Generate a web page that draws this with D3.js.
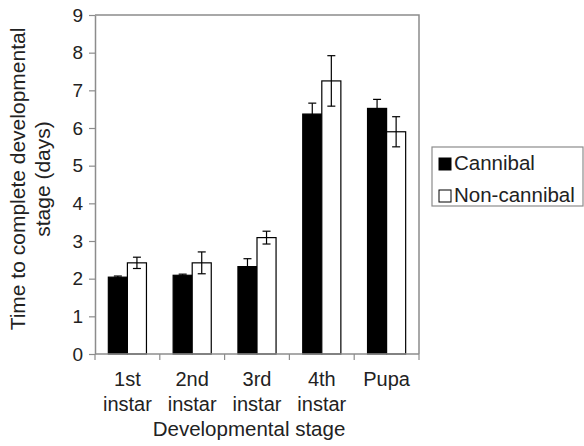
<!DOCTYPE html>
<html>
<head>
<meta charset="utf-8">
<script src="https://cdn.jsdelivr.net/npm/d3@7"></script>
<style>
  body { margin: 0; background: #fff; }
  svg { font-family: "Liberation Sans", Arial, sans-serif; }
</style>
</head>
<body>
<svg id="chart" width="584" height="446"></svg>
<script>
// data
var stages = ["1st instar", "2nd instar", "3rd instar", "4th instar", "Pupa"];
var series = ["Cannibal", "Non-cannibal"];
var cannibal = [2.04, 2.09, 2.32, 6.37, 6.52];
var cannibalErr = [0.03, 0.03, 0.21, 0.29, 0.24];
var nonCannibal = [2.42, 2.42, 3.09, 7.25, 5.90];
var nonCannibalErr = [0.15, 0.29, 0.17, 0.67, 0.40];
var yTicks = [0, 1, 2, 3, 4, 5, 6, 7, 8, 9];

var svg = d3.select("#chart"),
    margin = {top: 15, left: 95, right: 419, bottom: 354},
    axisGray = "#8c8c8c";

// rows for the grouped bars
var rows = stages.map(function(s, i) {
  return {stage: s, values: [
    {key: series[0], v: cannibal[i], e: cannibalErr[i]},
    {key: series[1], v: nonCannibal[i], e: nonCannibalErr[i]}
  ]};
});

var x0 = d3.scaleBand().domain(stages).range([margin.left, margin.right]).padding(0);
var x1 = d3.scaleBand().domain(series).range([0, x0.bandwidth()]).paddingInner(0).paddingOuter(0.7);
var y = d3.scaleLinear().domain([0, 9]).range([margin.bottom, margin.top]);
var fill = d3.scaleOrdinal().domain(series).range(["#000", "#fff"]);

// frame (top and right)
svg.append("path")
    .attr("d", "M" + margin.left + "," + margin.top + "H" + margin.right + "V" + margin.bottom)
    .attr("fill", "none")
    .attr("stroke", axisGray)
    .attr("stroke-width", 1.5);

// bars
var groups = svg.append("g").selectAll("g")
  .data(rows)
  .enter().append("g")
    .attr("transform", function(d) { return "translate(" + x0(d.stage) + ",0)"; });

groups.selectAll("rect")
  .data(function(d) { return d.values; })
  .enter().append("rect")
    .attr("x", function(d) { return x1(d.key); })
    .attr("y", function(d) { return y(d.v); })
    .attr("width", x1.bandwidth())
    .attr("height", function(d) { return y(0) - y(d.v); })
    .attr("fill", function(d) { return fill(d.key); })
    .attr("stroke", "#000")
    .attr("stroke-width", 1.2);

// error bars
var err = groups.selectAll("g.err")
  .data(function(d) { return d.values; })
  .enter().append("g")
    .attr("class", "err")
    .attr("stroke", "#000")
    .attr("stroke-width", 1.2);

err.append("line")
    .attr("x1", function(d) { return x1(d.key) + x1.bandwidth() / 2; })
    .attr("x2", function(d) { return x1(d.key) + x1.bandwidth() / 2; })
    .attr("y1", function(d) { return y(d.v + d.e); })
    .attr("y2", function(d) { return y(d.v - d.e); });

[1, -1].forEach(function(sign) {
  err.append("line")
      .attr("x1", function(d) { return x1(d.key) + x1.bandwidth() / 2 - 4; })
      .attr("x2", function(d) { return x1(d.key) + x1.bandwidth() / 2 + 4; })
      .attr("y1", function(d) { return y(d.v + sign * d.e); })
      .attr("y2", function(d) { return y(d.v + sign * d.e); });
});

// y axis
var yAxis = svg.append("g")
    .attr("transform", "translate(" + margin.left + ",0)")
    .call(d3.axisLeft(y).tickValues(yTicks).tickFormat(d3.format("d")).tickSize(6).tickSizeOuter(0).tickPadding(6));
yAxis.select(".domain").attr("stroke", axisGray).attr("stroke-width", 1.5);
yAxis.selectAll(".tick line").attr("stroke", axisGray).attr("stroke-width", 1.2);
yAxis.selectAll(".tick text").attr("font-size", 19).attr("fill", "#222").attr("font-family", "Liberation Sans, Arial, sans-serif");

// x axis: ticks at band edges
var xAxis = svg.append("g")
    .attr("transform", "translate(0," + margin.bottom + ")");
xAxis.append("line")
    .attr("x1", margin.left).attr("x2", margin.right)
    .attr("stroke", axisGray).attr("stroke-width", 1.5);
xAxis.selectAll("line.tk")
  .data(stages.concat(["end"]))
  .enter().append("line")
    .attr("class", "tk")
    .attr("x1", function(d) { return d === "end" ? margin.right : x0(d); })
    .attr("x2", function(d) { return d === "end" ? margin.right : x0(d); })
    .attr("y1", 0).attr("y2", 6)
    .attr("stroke", axisGray).attr("stroke-width", 1.2);

var catLabels = xAxis.selectAll("text.cat")
  .data(stages)
  .enter().append("text")
    .attr("class", "cat")
    .attr("x", function(d) { return x0(d) + x0.bandwidth() / 2; })
    .attr("y", 32)
    .attr("text-anchor", "middle")
    .attr("font-size", 20)
    .attr("fill", "#222");
catLabels.each(function(d) {
  var parts = d.split(" ");
  var t = d3.select(this);
  parts.forEach(function(p, i) {
    t.append("tspan").attr("x", t.attr("x")).attr("dy", i === 0 ? 0 : 24.5).text(p);
  });
});

// axis titles
svg.append("text")
    .attr("x", 249).attr("y", 436)
    .attr("text-anchor", "middle")
    .attr("font-size", 20.5)
    .attr("fill", "#222")
    .text("Developmental stage");

var yTitle = svg.append("text")
    .attr("transform", "translate(25,179) rotate(-90)")
    .attr("text-anchor", "middle")
    .attr("font-size", 21)
    .attr("fill", "#222");
yTitle.append("tspan").attr("x", 0).attr("y", 0).text("Time to complete developmental");
yTitle.append("tspan").attr("x", 0).attr("y", 25).text("stage (days)");

// legend
var legend = svg.append("g").attr("transform", "translate(432,147)");
legend.append("rect")
    .attr("width", 151).attr("height", 59)
    .attr("fill", "#fff")
    .attr("stroke", axisGray).attr("stroke-width", 1.2);
var items = legend.selectAll("g.item")
  .data(series)
  .enter().append("g")
    .attr("class", "item")
    .attr("transform", function(d, i) { return "translate(7," + (11 + i * 32) + ")"; });
items.append("rect")
    .attr("width", 12).attr("height", 12)
    .attr("fill", fill)
    .attr("stroke", "#000").attr("stroke-width", 1);
items.append("text")
    .attr("x", 15).attr("y", 12)
    .attr("font-size", 20.5)
    .attr("fill", "#222")
    .text(function(d) { return d; });
</script>
</body>
</html>
